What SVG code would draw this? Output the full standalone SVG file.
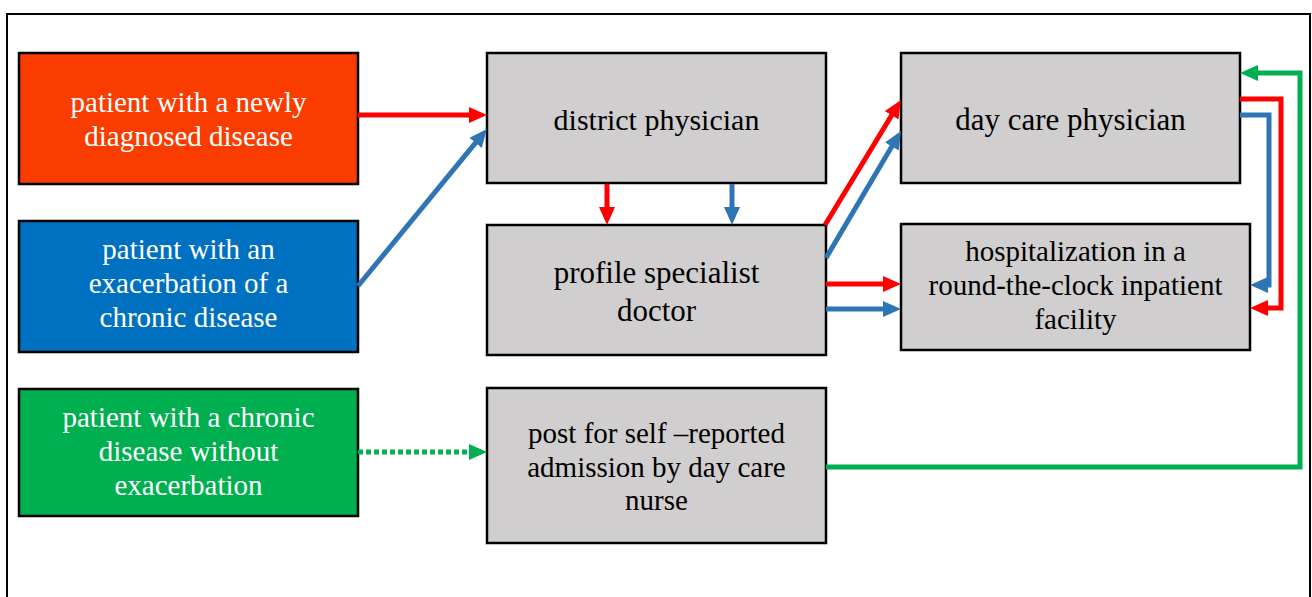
<svg xmlns="http://www.w3.org/2000/svg" width="1312" height="597" viewBox="0 0 1312 597">
<style>
.box{stroke:#000;stroke-width:2.5}
.gray{fill:#D0CECE}
.t{font-family:"Liberation Serif","Times New Roman",serif;text-anchor:middle}
.w{fill:#fff}
.k{fill:#000}
.c{fill:none;stroke-width:5}
.r{stroke:#FF0000}
.b{stroke:#2E75B6}
.g{stroke:#00B050}
</style>
<defs>
<marker id="ar" markerUnits="userSpaceOnUse" markerWidth="18" markerHeight="16" refX="8" refY="8" orient="auto"><path d="M0,0 L18,8 L0,16 z" fill="#FF0000"/></marker>
<marker id="ab" markerUnits="userSpaceOnUse" markerWidth="18" markerHeight="16" refX="8" refY="8" orient="auto"><path d="M0,0 L18,8 L0,16 z" fill="#2E75B6"/></marker>
<marker id="ag" markerUnits="userSpaceOnUse" markerWidth="18" markerHeight="16" refX="8" refY="8" orient="auto"><path d="M0,0 L18,8 L0,16 z" fill="#00B050"/></marker>
</defs>
<rect x="0" y="0" width="1312" height="597" fill="#fff"/>
<rect x="7" y="14" width="1303" height="600" fill="none" stroke="#000" stroke-width="2"/>

<g id="n-new">
<rect class="box" x="19" y="53" width="339" height="131" fill="#FA3C00"/>
<text class="t w" font-size="29"><tspan x="188.5" y="112">patient with a newly</tspan><tspan x="188.5" y="146">diagnosed disease</tspan></text>
</g>
<g id="n-exac">
<rect class="box" x="19" y="221" width="339" height="131" fill="#0070C0"/>
<text class="t w" font-size="29"><tspan x="188.5" y="259">patient with an</tspan><tspan x="188.5" y="293">exacerbation of a</tspan><tspan x="188.5" y="327">chronic disease</tspan></text>
</g>
<g id="n-chronic">
<rect class="box" x="19" y="389" width="339" height="127" fill="#00B050"/>
<text class="t w" font-size="29"><tspan x="188.5" y="427">patient with a chronic</tspan><tspan x="188.5" y="461">disease without</tspan><tspan x="188.5" y="495">exacerbation</tspan></text>
</g>
<g id="n-district">
<rect class="box gray" x="487" y="53" width="339" height="130"/>
<text class="t k" font-size="30" x="656.5" y="130">district physician</text>
</g>
<g id="n-profile">
<rect class="box gray" x="487" y="225" width="339" height="130"/>
<text class="t k" font-size="31"><tspan x="656.5" y="283">profile specialist</tspan><tspan x="656.5" y="321">doctor</tspan></text>
</g>
<g id="n-post">
<rect class="box gray" x="487" y="388" width="339" height="155"/>
<text class="t k" font-size="29"><tspan x="656.5" y="443">post for self –reported</tspan><tspan x="656.5" y="477">admission by day care</tspan><tspan x="656.5" y="510">nurse</tspan></text>
</g>
<g id="n-daycare">
<rect class="box gray" x="901" y="53" width="339" height="130"/>
<text class="t k" font-size="31" x="1070.5" y="130">day care physician</text>
</g>
<g id="n-hosp">
<rect class="box gray" x="901" y="224" width="349" height="126"/>
<text class="t k" font-size="29"><tspan x="1075.5" y="261">hospitalization in a</tspan><tspan x="1075.5" y="295">round-the-clock inpatient</tspan><tspan x="1075.5" y="329">facility</tspan></text>
</g>

<g id="connectors">
<path class="c r" d="M358,115 L477,115" marker-end="url(#ar)"/>
<path class="c b" d="M358,286 L480.6,136.7" marker-end="url(#ab)"/>
<path class="c r" d="M607,184 L607,215" marker-end="url(#ar)"/>
<path class="c b" d="M732,184 L732,215" marker-end="url(#ab)"/>
<path class="c r" d="M825,225 L895.8,108.5" marker-end="url(#ar)"/>
<path class="c b" d="M826,258 L895.9,139.6" marker-end="url(#ab)"/>
<path class="c r" d="M826,284 L891,284" marker-end="url(#ar)"/>
<path class="c b" d="M826,309 L891,309" marker-end="url(#ab)"/>
<path class="c r" d="M1240,99 H1281 V308 H1260" marker-end="url(#ar)"/>
<path class="c b" d="M1240,115 H1269 V285 H1260" marker-end="url(#ab)"/>
<path class="c g" d="M826,467 H1300 V73 H1250" marker-end="url(#ag)"/>
<path class="c g" d="M358,452 H477" stroke-dasharray="5 3" marker-end="url(#ag)"/>
</g>
</svg>
